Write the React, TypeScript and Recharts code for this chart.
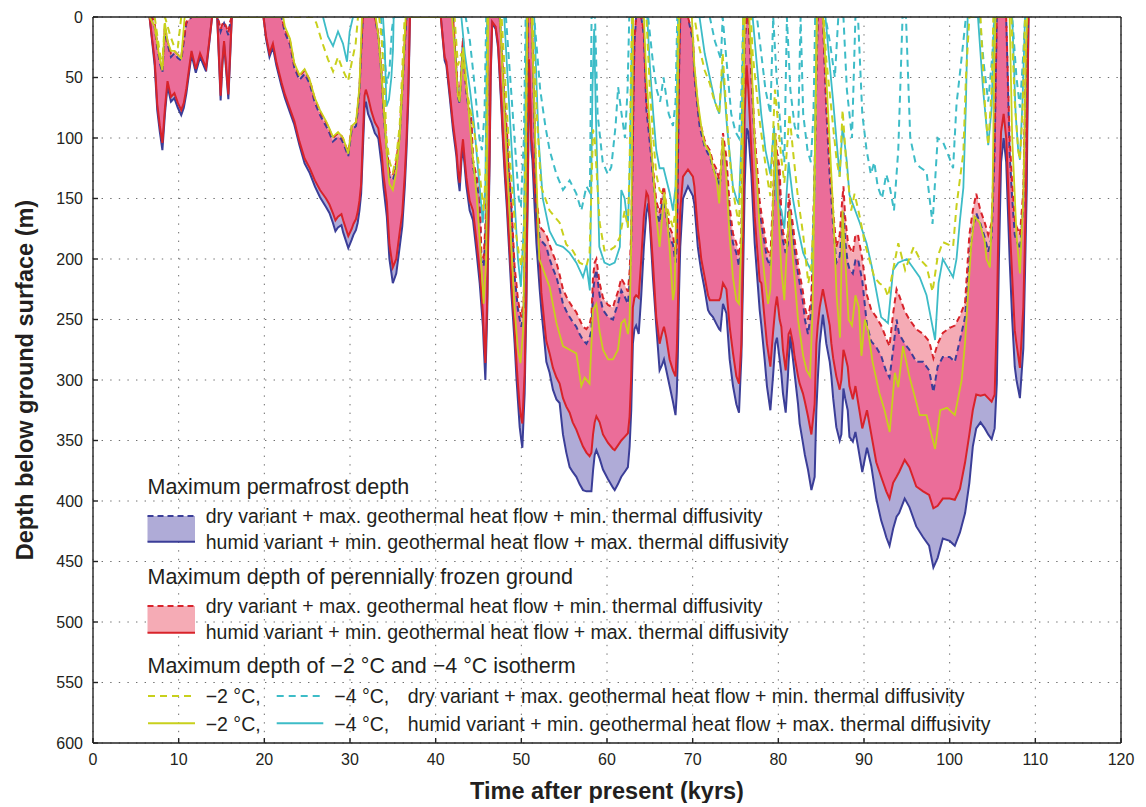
import React from 'react'
import {
    ComposedChart, Area, Line, XAxis, YAxis, CartesianGrid
} from 'recharts'

const FONT = '"Liberation Sans", Arial, Helvetica, sans-serif'

// Line / fill colours
const BLUE = '#3b3e98'
const RED = '#d8232a'
const YELLOW = '#c8d01c'
const CYAN = '#3dbcc7'
const LAVENDER = '#afabd7'
const LIGHT_PINK = '#f5abb5'
const HOT_PINK = '#eb6d99'
const TEXT = '#231f20'

const xTicks = [0, 10, 20, 30, 40, 50, 60, 70, 80, 90, 100, 110, 120]
const yTicks = [0, 50, 100, 150, 200, 250, 300, 350, 400, 450, 500, 550, 600]

// Time axis of the permafrost / frozen ground envelopes (kyrs after present)
const kyr = [
    6.6, 6.9, 7.2, 7.5, 7.8, 8.1, 8.4, 8.7, 9.1, 9.5, 9.9, 10.3, 10.6, 10.9, 11.5, 12.0, 12.5, 13.2, 13.6, 13.9,
    14.5, 14.7, 14.9, 15.1, 15.3, 15.55, 15.8, 16.0, 16.2,
    19.9, 20.2, 20.6, 21.0, 21.4, 22.0, 22.4, 23.0, 23.5, 24.1, 24.7, 25.3, 25.9, 26.5, 27.2, 27.6, 28.0, 28.3,
    28.6, 29.0, 29.2, 29.8, 30.2, 30.4, 30.7, 30.9, 31.1, 31.3, 31.5, 31.7, 31.85, 32.1, 32.5, 32.9, 33.3, 33.7,
    33.9, 34.3, 34.6, 35.0, 35.4, 35.8, 36.1, 36.4, 36.6, 36.8, 37.0,
    40.6, 41.05, 41.25, 41.64, 42.02, 42.22, 42.42, 42.61, 42.8, 43.0,
    43.19, 43.4, 43.59, 43.97, 44.17, 44.36, 44.75, 45.14, 45.33, 45.52,
    45.6, 45.8, 45.92, 46.03, 46.1, 46.3, 46.42, 46.6, 47.0, 47.28,
    47.47, 47.67, 47.86, 48.06, 48.33, 48.44, 48.84, 49.22, 49.42, 49.61,
    49.81, 50.0, 50.12, 50.27, 50.39, 50.5, 50.59, 50.66, 50.78, 50.9,
    51.05, 51.17, 51.29, 51.5, 51.76, 52.14, 52.34, 52.72, 52.92, 53.3,
    53.69, 54.1, 54.47, 54.86, 55.25, 55.64, 56.0, 56.42, 56.8, 57.2,
    57.6, 57.97, 58.18, 58.37, 58.56, 58.76, 59.14, 59.53, 60.12, 60.7,
    60.9, 61.28, 61.67, 62.06, 62.44, 62.64, 62.83, 63.02, 63.2, 63.4,
    63.7, 64.0, 64.3, 64.6, 64.8, 65.0, 65.36, 65.75, 66.14, 66.4,
    66.65, 66.92, 67.31, 67.7, 68.0, 68.15, 68.27, 68.4, 68.55, 68.87,
    69.45, 70.03, 70.2, 70.42, 70.6, 70.81, 71.0, 71.4, 71.79, 72.0,
    72.37, 72.8, 73.1, 73.24, 73.54, 73.94, 74.32, 74.71, 75.1, 75.41,
    75.69, 75.87, 76.07, 76.3, 76.5, 76.85, 77.24, 77.82, 78.02, 78.4,
    78.67, 79.07, 79.38, 79.65, 79.84, 80.15, 80.35, 80.54, 80.86, 81.12,
    81.2, 81.4, 81.71, 81.9, 82.3, 82.49, 82.87, 83.1, 83.46, 83.86,
    84.24, 84.44, 84.6, 84.83, 85.2, 85.6, 86.0, 86.19, 86.4, 86.77,
    87.16, 87.36, 87.6, 87.8, 88.1, 88.3, 88.7, 89.0, 89.3, 89.8,
    90.35, 90.85, 91.43, 92.0, 92.4, 92.6, 92.98, 93.4, 93.8, 94.1,
    94.75, 95.3, 96.1, 96.9, 97.6, 98.1, 98.6, 99.2, 100.0, 100.6,
    101.2, 101.8, 102.3, 102.7, 103.1, 103.6, 104.1, 104.5, 104.9, 105.25,
    105.5, 105.75, 106.0, 106.3, 106.6, 107.0, 107.3, 107.6, 107.8, 108.2,
    108.6, 108.8, 109.0, 109.2
]

// Maximum permafrost depth, humid variant (solid blue, m)
const permafrostHumid = [
    0, 20, 40, 77, 95, 110, 80, 57, 70, 67, 75, 81, 75, 63, 31, 46, 33, 45, 20, 0,
    0, 35, 69, 40, 22, 45, 68, 35, 0,
    0, 18, 33, 25, 40, 57, 67, 79, 89, 106, 121, 129, 140, 149, 157, 162, 170, 177,
    174, 172, 178, 191, 184, 180, 176, 170, 160, 146, 110, 75, 70, 80, 87, 96, 100, 123,
    140, 165, 200, 220, 212, 190, 173, 140, 110, 70, 0,
    0, 36, 40, 66, 93, 104, 115, 133, 144, 120,
    107, 125, 140, 160, 164, 168, 193, 220, 238, 256,
    270, 300, 270, 242, 200, 120, 50, 5, 10, 25,
    49, 75, 104, 130, 160, 175, 228, 270, 297, 318,
    339, 350, 356, 330, 311, 270, 242, 190, 132, 40,
    75, 110, 118, 150, 187, 225, 242, 270, 285, 294,
    308, 316, 319, 345, 360, 372, 376, 380, 386, 391,
    392, 392, 392, 375, 362, 358, 365, 374, 382, 389,
    391, 386, 380, 376, 372, 355, 325, 270, 258, 255,
    262, 230, 190, 162, 154, 170, 215, 255, 292, 288,
    283, 292, 305, 318, 329, 310, 280, 230, 190, 150,
    140, 148, 155, 174, 190, 201, 210, 225, 242, 245,
    248, 254, 258, 259, 237, 245, 283, 305, 320, 327,
    280, 220, 140, 92, 95, 130, 187, 242, 255, 283,
    305, 325, 297, 270, 265, 283, 295, 311, 327, 297,
    285, 264, 283, 295, 320, 336, 352, 362, 374, 391,
    380, 325, 300, 270, 246, 270, 285, 297, 315, 339,
    350, 345, 307, 315, 325, 347, 351, 343, 355, 376,
    356, 371, 398, 416, 425, 430, 437, 423, 413, 410,
    398, 405, 421, 430, 437, 455, 447, 431, 433, 437,
    426, 410, 385, 355, 340, 335, 340, 345, 349, 340,
    303, 200, 120, 100, 120, 200, 250, 289, 300, 315,
    274, 210, 141, 0
]

// Maximum depth of perennially frozen ground, humid variant (solid red, m)
const frozenHumid = [
    0, 18, 36, 72, 90, 104, 75, 53, 66, 63, 71, 77, 71, 59, 28, 43, 30, 42, 18, 0,
    0, 32, 65, 37, 20, 42, 64, 32, 0,
    0, 16, 30, 22, 37, 54, 64, 76, 86, 103, 117, 125, 135, 143, 150, 155, 162, 168,
    165, 163, 168, 181, 175, 171, 167, 161, 152, 138, 100, 65, 60, 66, 78, 87, 92, 113,
    130, 153, 188, 207, 200, 178, 162, 130, 100, 62, 0,
    0, 33, 37, 62, 88, 99, 110, 127, 137, 114,
    101, 119, 133, 152, 156, 160, 184, 210, 227, 245,
    258, 286, 257, 230, 190, 110, 45, 4, 8, 22,
    45, 70, 98, 123, 152, 166, 218, 258, 284, 304,
    322, 332, 336, 312, 294, 255, 228, 178, 122, 35,
    68, 101, 108, 135, 160, 200, 228, 255, 268, 278,
    290, 298, 303, 315, 322, 327, 335, 341, 348, 355,
    360, 363, 360, 345, 335, 330, 335, 345, 352, 357,
    358, 354, 350, 347, 344, 330, 297, 240, 232, 230,
    232, 200, 165, 145, 148, 165, 203, 248, 270, 262,
    256, 265, 283, 292, 297, 275, 242, 200, 160, 132,
    126, 132, 140, 160, 175, 187, 200, 215, 230, 234,
    234, 234, 234, 232, 220, 225, 256, 278, 297, 303,
    270, 187, 80, 40, 60, 110, 165, 218, 220, 250,
    270, 289, 261, 240, 231, 250, 256, 275, 292, 270,
    262, 259, 270, 281, 297, 303, 311, 318, 330, 345,
    320, 270, 255, 240, 225, 240, 255, 270, 282, 297,
    308, 300, 275, 280, 289, 305, 316, 305, 318, 340,
    325, 345, 368, 380, 388, 392, 398, 385, 380, 376,
    366, 372, 388, 392, 395, 406, 404, 398, 398, 399,
    390, 368, 345, 325, 312, 313, 312, 315, 318, 312,
    250, 150, 95, 80, 100, 170, 215, 259, 270, 290,
    240, 180, 110, 0
]

// Maximum permafrost depth, dry variant (dashed blue, m)
const permafrostDry = [
    0, 0, 8, 25, 38, 46, 10, 22, 33, 30, 34, 36, 20, 5, 0, 0, 0, 0, 0, 0,
    0, 5, 12, 8, 5, 10, 15, 5, 0,
    0, 0, 0, 0, 0, 0, 13, 23, 42, 52, 47, 55, 71, 81, 90, 96, 103, 101,
    99, 101, 104, 115, 93, 92, 90, 78, 62, 30, 0, 0, 0, 0, 0, 0, 16, 50,
    78, 112, 132, 135, 124, 99, 63, 22, 0, 0, 0,
    0, 0, 0, 0, 0, 22, 44, 66, 72, 45,
    19, 45, 63, 82, 88, 124, 137, 150, 201, 205,
    206, 180, 160, 77, 0, 0, 0, 0, 0, 0,
    0, 22, 50, 77, 100, 118, 160, 215, 228, 242,
    250, 256, 250, 242, 200, 160, 120, 77, 0, 0,
    0, 0, 20, 80, 160, 182, 185, 188, 190, 200,
    208, 215, 225, 237, 243, 248, 252, 256, 262, 267,
    270, 265, 259, 228, 215, 209, 230, 242, 248, 250,
    245, 237, 226, 231, 237, 220, 187, 104, 22, 0,
    0, 0, 15, 77, 90, 104, 132, 160, 170, 155,
    148, 165, 182, 188, 203, 190, 132, 50, 0, 0,
    0, 20, 49, 65, 77, 90, 96, 107, 113, 115,
    125, 132, 140, 135, 104, 124, 165, 187, 195, 206,
    187, 104, 22, 0, 0, 49, 104, 160, 170, 187,
    200, 206, 160, 104, 120, 132, 173, 185, 195, 187,
    154, 165, 180, 192, 212, 220, 235, 250, 262, 242,
    132, 50, 0, 0, 0, 77, 132, 150, 173, 203,
    198, 180, 160, 185, 203, 208, 212, 201, 200, 218,
    255, 268, 273, 280, 289, 293, 298, 275, 250, 262,
    270, 275, 285, 285, 292, 310, 289, 281, 281, 285,
    267, 248, 200, 175, 162, 171, 182, 194, 182, 112,
    0, 0, 0, 0, 0, 112, 150, 180, 185, 192,
    156, 80, 20, 0
]

// Maximum depth of perennially frozen ground, dry variant (dashed red, m)
const frozenDry = [
    0, 0, 6, 22, 35, 43, 8, 20, 30, 28, 31, 33, 18, 4, 0, 0, 0, 0, 0, 0,
    0, 4, 10, 6, 4, 8, 13, 4, 0,
    0, 0, 0, 0, 0, 0, 10, 20, 39, 49, 44, 52, 68, 78, 87, 93, 100, 98,
    96, 98, 101, 112, 90, 89, 87, 75, 59, 27, 0, 0, 0, 0, 0, 0, 13, 46,
    74, 108, 128, 131, 120, 95, 59, 19, 0, 0, 0,
    0, 0, 0, 0, 0, 20, 41, 62, 68, 42,
    17, 42, 59, 78, 84, 118, 131, 144, 194, 198,
    199, 172, 150, 70, 0, 0, 0, 0, 0, 0,
    0, 20, 46, 72, 95, 112, 153, 207, 220, 234,
    242, 248, 242, 234, 192, 152, 112, 70, 0, 0,
    0, 0, 15, 70, 150, 172, 175, 178, 180, 188,
    196, 203, 213, 225, 231, 236, 240, 244, 250, 256,
    258, 254, 247, 215, 203, 200, 220, 232, 238, 240,
    235, 227, 216, 221, 227, 210, 178, 95, 18, 0,
    0, 0, 12, 70, 83, 96, 124, 152, 162, 147,
    140, 157, 174, 180, 195, 182, 124, 45, 0, 0,
    0, 15, 45, 60, 72, 85, 91, 102, 108, 110,
    120, 126, 134, 128, 96, 116, 157, 179, 187, 198,
    179, 96, 18, 0, 0, 44, 98, 152, 162, 179,
    192, 198, 150, 96, 112, 124, 165, 177, 187, 179,
    146, 157, 172, 184, 204, 212, 227, 240, 250, 232,
    124, 45, 0, 0, 0, 70, 120, 138, 160, 190,
    180, 160, 140, 165, 185, 190, 195, 180, 180, 200,
    230, 242, 248, 255, 262, 266, 272, 245, 225, 230,
    243, 250, 258, 262, 268, 282, 270, 261, 257, 255,
    247, 236, 180, 160, 146, 160, 170, 180, 170, 100,
    0, 0, 0, 0, 0, 100, 138, 168, 173, 180,
    144, 70, 15, 0
]

// -2 °C isotherm, humid variant (solid yellow)
const iso2HumidKyr = [
    6.6, 7.2, 7.5, 7.8, 8.1, 8.4, 8.7, 9.1, 9.5, 9.9, 10.3, 10.7,
    22.2, 22.4, 23.0, 23.5, 24.1, 24.7, 25.3, 25.9, 26.5, 27.2, 27.6, 28.0, 28.6, 29.2, 29.8, 30.2, 30.7, 31.1, 31.4,
    33.0, 33.3, 33.7, 34.3, 34.6, 35.0, 35.4, 35.8, 36.1, 36.5,
    41.9, 42.2, 42.6, 42.8, 43.2, 43.6, 44.0, 44.4, 44.8, 45.2, 45.6, 45.9, 46.05, 46.15,
    47.5, 47.9, 48.4, 48.8, 49.2, 49.6, 49.9, 50.2, 50.5, 50.7,
    51.2, 51.7, 52.1, 53.3, 54.1, 54.86, 55.64, 56.42, 57.0, 57.4, 57.97, 58.37, 58.76, 59.14, 59.53,
    60.12, 60.7, 61.28, 61.67, 62.06, 62.44, 62.64, 62.83, 62.95, 63.05,
    64.3, 64.6, 65.0, 65.4, 65.75, 66.14, 66.7, 67.3, 67.7, 67.9, 68.1, 68.3, 68.45,
    69.9, 70.2, 70.6, 71.0, 71.4, 72.0, 72.4, 72.8, 73.1, 73.5, 73.9, 74.3, 74.7, 75.1, 75.4, 75.7, 75.9, 76.1,
    76.6, 76.9, 77.24, 77.8, 78.4, 78.8, 79.07, 79.4, 79.65, 80.0, 80.35, 80.7, 81.0, 81.3, 81.7, 82.3, 82.9,
    83.3, 83.7, 84.0, 84.3, 84.5,
    85.2, 85.6, 86.0, 86.4, 86.8, 87.2, 87.5, 87.8, 88.2, 88.6, 89.0, 89.4, 89.7, 90.1, 90.5, 91.0, 91.8,
    92.4, 93.0, 93.6, 94.0, 94.55, 95.3, 96.5, 97.3, 98.3, 98.9, 99.7, 100.6, 101.4, 101.8, 102.1, 102.5,
    102.9, 103.5, 104.1, 104.3, 104.7, 105.0, 105.2, 105.35,
    107.0, 107.3, 107.8, 108.2, 108.6, 108.9, 109.05
]
const iso2HumidDepth = [
    0, 8, 22, 35, 44, 5, 20, 28, 28, 31, 34, 0,
    0, 8, 18, 38, 48, 43, 52, 67, 77, 86, 92, 99, 95, 100, 113, 90, 87, 58, 0,
    0, 15, 50, 115, 138, 143, 128, 100, 60, 0,
    0, 25, 65, 70, 25, 55, 90, 120, 150, 190, 237, 200, 60, 0,
    0, 60, 130, 185, 240, 275, 286, 260, 150, 0,
    0, 120, 200, 223, 253, 272, 275, 278, 305, 298, 303, 242, 237, 260, 275,
    283, 283, 275, 253, 250, 262, 250, 187, 80, 0,
    0, 50, 90, 130, 165, 190, 145, 190, 234, 225, 143, 40, 0,
    0, 40, 70, 90, 105, 112, 125, 135, 154, 100, 130, 180, 215, 234, 237, 180, 80, 0,
    0, 40, 104, 173, 215, 237, 225, 150, 96, 160, 209, 234, 190, 160, 200, 250, 280,
    292, 297, 242, 100, 0,
    0, 50, 104, 160, 230, 265, 160, 200, 250, 255, 230, 240, 280, 250, 260, 285, 311,
    325, 343, 294, 306, 272, 297, 329, 329, 357, 325, 323, 329, 300, 269, 234, 190,
    165, 170, 186, 200, 207, 150, 40, 0,
    0, 100, 180, 212, 150, 30, 0
]

// -2 °C isotherm, dry variant (dashed yellow)
const iso2DryKyr = [
    7.2, 7.5, 7.8, 8.1, 8.4, 9.0, 9.5, 9.9, 10.3,
    25.7, 26.07, 26.66, 27.43, 28.02, 28.6, 29.18, 29.77, 30.16, 30.66, 30.93,
    33.4, 33.66, 34.05, 34.25, 34.63, 35.02, 35.41, 35.8, 36.12, 36.38,
    42.2, 42.6, 43.0, 43.6, 44.4, 45.0, 45.6, 45.9, 46.05,
    47.7, 48.1, 48.5, 48.9, 49.3, 49.7, 50.0, 50.3, 50.5, 50.7,
    51.3, 51.8, 52.3, 53.3, 54.47, 55.25, 56.0, 56.8, 57.6, 57.97, 58.37, 58.56, 59.14, 59.7, 60.3, 60.9,
    61.5, 62.06, 62.44, 62.64, 62.83, 62.95,
    64.6, 65.0, 65.4, 65.75, 66.14, 66.7, 67.3, 67.7, 68.0, 68.2, 68.3,
    70.2, 70.8, 71.4, 72.0, 72.4, 72.8, 73.1, 73.5, 73.9, 74.3, 74.7, 75.1, 75.4, 75.7, 75.9,
    76.8, 77.0, 77.8, 78.4, 78.8, 79.07, 79.3, 79.6, 80.0, 80.35, 80.7, 81.0, 81.3, 81.7, 82.3, 82.9,
    83.5, 83.86, 84.2, 84.4, 84.5,
    85.3, 85.6, 86.2, 86.8, 87.16, 87.5, 87.9, 88.5, 88.9, 89.5, 90.1, 90.65, 91.2, 91.8, 92.4, 92.8,
    93.4, 94.0, 94.8, 95.8, 96.5, 97.3, 98.0, 98.6, 99.2, 100.4, 100.8, 101.6, 101.9, 102.3,
    103.6, 104.1, 104.5, 104.9, 105.1,
    107.2, 107.6, 108.0, 108.2, 108.5, 108.8
]
const iso2DryDepth = [
    0, 15, 30, 40, 0, 15, 25, 25, 0,
    0, 5, 19, 35, 45, 33, 44, 53, 39, 22, 0,
    0, 15, 60, 100, 120, 128, 115, 90, 40, 0,
    0, 40, 30, 60, 90, 120, 160, 120, 0,
    0, 50, 100, 140, 175, 195, 206, 180, 100, 0,
    0, 80, 140, 160, 170, 188, 193, 203, 206, 195, 93, 100, 170, 193, 193, 190,
    182, 160, 174, 120, 30, 0,
    0, 60, 100, 130, 143, 148, 165, 174, 160, 60, 0,
    0, 26, 44, 55, 66, 74, 80, 30, 74, 115, 143, 160, 172, 110, 0,
    0, 30, 85, 117, 137, 148, 110, 60, 90, 117, 137, 110, 80, 110, 150, 180,
    220, 205, 150, 60, 0,
    0, 35, 77, 118, 132, 77, 118, 160, 146, 165, 187, 201, 215, 220, 223, 231,
    209, 187, 209, 190, 200, 206, 227, 198, 186, 190, 156, 112, 50, 0,
    0, 71, 106, 60, 0,
    0, 70, 110, 118, 80, 0
]

// -4 °C isotherm, humid variant (solid cyan)
const iso4HumidKyr = [
    26.85, 27.43, 28.02, 28.6, 29.18, 29.65, 29.96, 30.35,
    33.85, 34.05, 34.25, 34.55, 34.83, 35.02, 35.1,
    43.0, 43.4, 44.0, 44.5, 45.0, 45.5, 45.8, 46.0,
    48.0, 48.4, 48.8, 49.2, 49.6, 49.95, 50.3, 50.5, 50.6,
    51.5, 52.0, 52.5, 53.3, 54.1, 54.86, 55.64, 56.42, 57.2, 57.6, 58.0, 58.3, 58.5, 58.7, 59.1, 59.7,
    60.3, 60.9, 61.5, 61.67, 62.06, 62.44, 62.64, 62.83, 62.95,
    64.7, 65.0, 65.4, 65.75, 66.14, 66.6, 67.3, 67.7, 68.0, 68.2, 68.3,
    70.8, 71.4, 72.0, 72.6, 73.1, 73.5, 74.0, 74.7, 75.1, 75.4, 75.7, 75.9,
    77.0, 77.5, 78.0, 78.5, 79.07, 79.5, 79.8, 80.35, 80.7, 81.2, 81.7, 82.3, 82.9, 83.5, 83.9, 84.2, 84.4, 84.5,
    85.5, 86.0, 86.4, 87.16, 87.5, 88.0, 88.3, 89.5, 90.3, 90.9, 92.0, 92.8, 93.4, 94.0, 95.0, 96.5, 97.3,
    98.3, 98.7, 99.2, 100.4, 100.8, 101.2, 101.6, 101.9, 102.1,
    103.3, 103.9, 104.1, 104.5, 104.9, 105.2,
    107.3, 107.7, 108.0, 108.2, 108.5, 108.8
]
const iso4HumidDepth = [
    0, 16, 24, 12, 22, 37, 12, 0,
    0, 22, 74, 68, 50, 27, 0,
    0, 30, 60, 90, 130, 170, 140, 0,
    0, 50, 100, 150, 200, 223, 170, 60, 0,
    0, 100, 150, 177, 188, 190, 195, 203, 215, 205, 226, 60, 10, 80, 190, 203,
    205, 203, 190, 143, 150, 174, 130, 50, 0,
    0, 40, 80, 110, 125, 125, 145, 160, 140, 40, 0,
    0, 30, 50, 70, 80, 40, 90, 140, 150, 155, 100, 0,
    0, 40, 80, 110, 130, 90, 150, 160, 175, 120, 150, 175, 195, 205, 210, 150, 40, 0,
    0, 40, 70, 132, 90, 120, 147, 170, 187, 206, 248, 253, 209, 203, 200, 215, 230,
    267, 220, 200, 215, 200, 168, 141, 71, 0,
    0, 60, 75, 106, 75, 0,
    0, 80, 110, 118, 70, 0
]

// -4 °C isotherm, dry variant (dashed cyan)
const iso4DryKyr = [
    33.6, 34.0, 34.3, 34.6, 34.9, 35.1,
    43.5, 44.0, 44.6, 45.1, 45.4, 45.7, 45.9,
    48.2, 48.8, 49.3, 49.7, 49.95, 50.3, 50.5,
    51.5, 52.2, 52.8, 53.3, 54.1, 54.86, 55.64, 56.42, 57.0, 57.6, 58.0, 58.2, 58.6, 58.9, 59.5, 60.1,
    60.5, 61.0, 61.3, 61.7, 62.1, 62.4, 62.6,
    64.8, 65.4, 65.8, 66.2, 66.6, 67.2, 67.7, 68.0, 68.2,
    72.0, 72.6, 73.3, 73.5, 74.0, 74.5, 75.0, 75.4, 75.7, 75.9,
    77.5, 78.0, 78.5, 79.07, 79.4, 79.8, 80.35, 80.7, 81.0, 81.4, 81.9, 82.3, 82.6, 82.9, 83.4, 83.8, 84.1, 84.3,
    85.5, 86.0, 86.6, 87.0, 87.6, 88.0, 88.6, 89.0, 89.3, 89.8, 90.3, 90.8, 91.2, 91.6, 92.1, 92.6, 93.0,
    93.5, 94.0, 94.5, 94.9, 95.4, 96.0, 96.5, 97.3, 98.0, 98.6, 99.2, 100.0, 100.4, 100.8, 101.3, 101.9,
    103.5, 104.0, 104.5, 105.0, 105.2,
    107.3, 107.8, 108.2, 108.6, 108.8
]
const iso4DryDepth = [
    0, 30, 55, 45, 10, 0,
    0, 20, 60, 100, 110, 80, 0,
    0, 60, 110, 150, 157, 100, 0,
    0, 60, 90, 110, 130, 143, 135, 146, 160, 140, 145, 0, 0, 80, 120, 130,
    124, 90, 58, 80, 100, 60, 0,
    0, 40, 60, 70, 50, 80, 90, 70, 0,
    0, 20, 35, 0, 40, 80, 95, 100, 60, 0,
    0, 30, 60, 80, 0, 50, 100, 120, 0, 60, 90, 100, 0, 80, 110, 120, 80, 0,
    0, 20, 50, 0, 0, 60, 100, 0, 0, 80, 110, 130, 120, 140, 150, 130, 140,
    160, 110, 0, 0, 100, 120, 124, 128, 171, 100, 103, 117, 125, 72, 40, 0,
    0, 40, 70, 30, 0,
    0, 50, 75, 30, 0
]

// Table for the envelope fills: lavender = permafrost range, light pink = frozen ground range,
// hot pink = where the two ranges overlap
const envelope = kyr.map((t, i) => ({
    t,
    ph: permafrostHumid[i],
    pd: permafrostDry[i],
    fh: frozenHumid[i],
    fd: frozenDry[i],
    permafrostRange: [permafrostDry[i], permafrostHumid[i]],
    frozenRange: [frozenDry[i], frozenHumid[i]],
    overlap: [permafrostDry[i], Math.max(permafrostDry[i], frozenHumid[i])],
}))

const toSeries = (ts: number[], ds: number[]) => ts.map((t, i) => ({ t, d: ds[i] }))
const iso2Humid = toSeries(iso2HumidKyr, iso2HumidDepth)
const iso2Dry = toSeries(iso2DryKyr, iso2DryDepth)
const iso4Humid = toSeries(iso4HumidKyr, iso4HumidDepth)
const iso4Dry = toSeries(iso4DryKyr, iso4DryDepth)

const tickStyle = { fontSize: 16, fill: TEXT, fontFamily: FONT }
const axisStroke = { stroke: '#222', strokeWidth: 1.4 }
const titleStyle = { fontSize: 23.5, fontWeight: 700, fill: TEXT, fontFamily: FONT }

/**
 * Legend drawn over the lower-left of the plot (no box, grid shows through)
 */
function LegendOverlay() {
    const title = { fontSize: 21.5, fill: TEXT, fontFamily: FONT }
    const item = { fontSize: 19.5, fill: TEXT, fontFamily: FONT }
    const dryText = 'dry variant + max. geothermal heat flow + min. thermal diffusivity'
    const humidText = 'humid variant + min. geothermal heat flow + max. thermal diffusivity'
    return (
        <svg
            width={1130}
            height={795}
            style={{ position: 'absolute', left: 0, top: 0, pointerEvents: 'none' }}
        >
            <text x={139.5} y={486} {...title}>Maximum permafrost depth</text>
            <rect x={139.5} y={508} width={47.5} height={25.7} fill={LAVENDER} />
            <line x1={139.5} x2={187} y1={508} y2={508} stroke={BLUE} strokeWidth={2} strokeDasharray="6 4" />
            <line x1={139.5} x2={187} y1={533.7} y2={533.7} stroke={BLUE} strokeWidth={2} />
            <text x={197.7} y={515.3} {...item}>{dryText}</text>
            <text x={197.7} y={541.3} {...item}>{humidText}</text>

            <text x={139.5} y={576} {...title}>Maximum depth of perennially frozen ground</text>
            <rect x={139.5} y={598} width={47.5} height={26.7} fill={LIGHT_PINK} />
            <line x1={139.5} x2={187} y1={598} y2={598} stroke={RED} strokeWidth={2} strokeDasharray="6 4" />
            <line x1={139.5} x2={187} y1={624.7} y2={624.7} stroke={RED} strokeWidth={2} />
            <text x={197.7} y={605.3} {...item}>{dryText}</text>
            <text x={197.7} y={631.3} {...item}>{humidText}</text>

            <text x={139.5} y={665.3} {...title}>Maximum depth of −2 °C and −4 °C isotherm</text>
            <line x1={140} x2={187} y1={688} y2={688} stroke={YELLOW} strokeWidth={2} strokeDasharray="7 5" />
            <text x={197.7} y={695.3} {...item}>−2 °C,</text>
            <line x1={268.7} x2={315.3} y1={688} y2={688} stroke={CYAN} strokeWidth={2} strokeDasharray="7 5" />
            <text x={326.3} y={695.3} {...item}>−4 °C,</text>
            <text x={399.7} y={695.3} {...item}>{dryText}</text>

            <line x1={140} x2={187} y1={715.3} y2={715.3} stroke={YELLOW} strokeWidth={2} />
            <text x={197.7} y={722.7} {...item}>−2 °C,</text>
            <line x1={268.7} x2={315.3} y1={715.3} y2={715.3} stroke={CYAN} strokeWidth={2} />
            <text x={326.3} y={722.7} {...item}>−4 °C,</text>
            <text x={399.7} y={722.7} {...item}>{humidText}</text>
        </svg>
    )
}

export default function App() {
    return (
        <div style={{ position: 'relative', width: 1130, height: 795, fontFamily: FONT }}>
            <ComposedChart
                width={1130}
                height={795}
                data={envelope}
                margin={{ top: 8, right: 16, bottom: 0, left: 0 }}
            >
                <CartesianGrid stroke="#6e6e6e" strokeWidth={1} strokeDasharray="1.4 7.2" />

                <XAxis
                    dataKey="t"
                    type="number"
                    domain={[0, 120]}
                    ticks={xTicks}
                    allowDataOverflow
                    height={60}
                    tickSize={-5}
                    tickMargin={16}
                    tick={tickStyle}
                    axisLine={axisStroke}
                    tickLine={axisStroke}
                    label={{
                        value: 'Time after present (kyrs)',
                        position: 'insideBottom',
                        offset: 4,
                        style: titleStyle
                    }}
                />
                <XAxis
                    xAxisId="top"
                    orientation="top"
                    type="number"
                    domain={[0, 120]}
                    ticks={xTicks}
                    allowDataOverflow
                    height={1}
                    tickSize={-5}
                    tick={false}
                    axisLine={axisStroke}
                    tickLine={axisStroke}
                />
                <YAxis
                    type="number"
                    domain={[0, 600]}
                    ticks={yTicks}
                    reversed
                    allowDataOverflow
                    width={85}
                    tickSize={-5}
                    tickMargin={15}
                    tick={tickStyle}
                    axisLine={axisStroke}
                    tickLine={axisStroke}
                    label={{
                        value: 'Depth below ground surface (m)',
                        angle: -90,
                        position: 'insideLeft',
                        offset: 17,
                        style: { ...titleStyle, textAnchor: 'middle' }
                    }}
                />
                <YAxis
                    yAxisId="right"
                    orientation="right"
                    type="number"
                    domain={[0, 600]}
                    ticks={yTicks}
                    reversed
                    allowDataOverflow
                    width={1}
                    tickSize={-5}
                    tick={false}
                    axisLine={axisStroke}
                    tickLine={axisStroke}
                />

                {/* Envelopes */}
                <Area dataKey="permafrostRange" type="linear" stroke="none" fill={LAVENDER} fillOpacity={1} isAnimationActive={false} />
                <Area dataKey="frozenRange" type="linear" stroke="none" fill={LIGHT_PINK} fillOpacity={1} isAnimationActive={false} />
                <Area dataKey="overlap" type="linear" stroke="none" fill={HOT_PINK} fillOpacity={1} isAnimationActive={false} />

                {/* Envelope edges */}
                <Line dataKey="ph" type="linear" stroke={BLUE} strokeWidth={2} dot={false} activeDot={false} isAnimationActive={false} />
                <Line dataKey="fh" type="linear" stroke={RED} strokeWidth={2} dot={false} activeDot={false} isAnimationActive={false} />
                <Line dataKey="pd" type="linear" stroke={BLUE} strokeWidth={2} strokeDasharray="6 4" dot={false} activeDot={false} isAnimationActive={false} />
                <Line dataKey="fd" type="linear" stroke={RED} strokeWidth={2} strokeDasharray="6 4" dot={false} activeDot={false} isAnimationActive={false} />

                {/* Isotherms */}
                <Line data={iso4Dry} dataKey="d" type="linear" stroke={CYAN} strokeWidth={2} strokeDasharray="7 5" dot={false} activeDot={false} isAnimationActive={false} />
                <Line data={iso4Humid} dataKey="d" type="linear" stroke={CYAN} strokeWidth={1.8} dot={false} activeDot={false} isAnimationActive={false} />
                <Line data={iso2Dry} dataKey="d" type="linear" stroke={YELLOW} strokeWidth={2} strokeDasharray="7 5" dot={false} activeDot={false} isAnimationActive={false} />
                <Line data={iso2Humid} dataKey="d" type="linear" stroke={YELLOW} strokeWidth={1.8} dot={false} activeDot={false} isAnimationActive={false} />
            </ComposedChart>
            <LegendOverlay />
        </div>
    )
}
